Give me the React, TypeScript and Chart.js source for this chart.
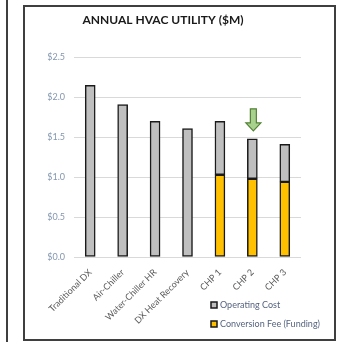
import React, { useEffect, useRef } from "react";
import { Chart, registerables } from "chart.js";

Chart.register(...registerables);

const categories = [
  "Traditional DX",
  "Air-Chiller",
  "Water-Chiller HR",
  "DX Heat Recovery",
  "CHP 1",
  "CHP 2",
  "CHP 3",
];
// Conversion fee (funding) portion, bottom segment ($M)
const conversionFee = [null, null, null, null, 1.03, 0.98, 0.94];
// Operating cost portion, top segment ($M)
const operatingCost = [2.15, 1.91, 1.7, 1.61, 0.67, 0.5, 0.47];
const yTicks = [0, 0.5, 1.0, 1.5, 2.0, 2.5];
const highlightIndex = 5;

const FONT = "Lato, 'Open Sans', sans-serif";

export default function App() {
  const ref = useRef<HTMLCanvasElement | null>(null);

  useEffect(() => {
    if (!ref.current) return;

    const legendPlugin = {
      id: "customLegend",
      afterDraw(chart: any) {
        const ctx = chart.ctx;
        const items = [
          { label: chart.data.datasets[1].label, color: chart.data.datasets[1].backgroundColor },
          { label: chart.data.datasets[0].label, color: chart.data.datasets[0].backgroundColor },
        ];
        const x0 = 186;
        const ys = [298, 317];
        ctx.save();
        ctx.font = `9px ${FONT}`;
        ctx.textBaseline = "middle";
        items.forEach((it, i) => {
          const y = ys[i];
          ctx.fillStyle = it.color;
          ctx.strokeStyle = "#1a1a1a";
          ctx.lineWidth = 1.5;
          ctx.fillRect(x0, y - 3, 6, 6);
          ctx.strokeRect(x0, y - 3, 6, 6);
          ctx.fillStyle = "#55637f";
          ctx.fillText(it.label, x0 + 9, y + 0.5);
        });
        ctx.restore();
      },
    };

    const arrowPlugin = {
      id: "arrow",
      afterDatasetsDraw(chart: any) {
        const meta = chart.getDatasetMeta(1);
        const el = meta.data[highlightIndex];
        if (!el) return;
        const ctx = chart.ctx;
        const cx = el.x + 1;
        const tip = el.y - 8;
        const top = el.y - 30;
        const headTop = tip - 8;
        const sw = 3;
        const hw = 7.5;
        ctx.save();
        ctx.beginPath();
        ctx.moveTo(cx - sw, top);
        ctx.lineTo(cx + sw, top);
        ctx.lineTo(cx + sw, headTop);
        ctx.lineTo(cx + hw, headTop);
        ctx.lineTo(cx, tip);
        ctx.lineTo(cx - hw, headTop);
        ctx.lineTo(cx - sw, headTop);
        ctx.closePath();
        ctx.fillStyle = "#a9d18e";
        ctx.fill();
        ctx.strokeStyle = "#548235";
        ctx.lineWidth = 1.2;
        ctx.stroke();
        ctx.restore();
      },
    };

    const chart = new Chart(ref.current, {
      type: "bar",
      data: {
        labels: categories,
        datasets: [
          {
            label: "Conversion Fee (Funding)",
            data: conversionFee as any,
            backgroundColor: "#ffc000",
            borderColor: "#1a1a1a",
            borderWidth: 1.5,
            borderSkipped: false,
            barThickness: 10,
          },
          {
            label: "Operating Cost",
            data: operatingCost,
            backgroundColor: "#bfbfbf",
            borderColor: "#1a1a1a",
            borderWidth: 1.5,
            borderSkipped: false,
            barThickness: 10,
          },
        ],
      },
      options: {
        responsive: false,
        animation: false,
        layout: { padding: { left: 0, right: 33, top: 0, bottom: 0 } },
        plugins: {
          legend: { display: false },
          tooltip: { enabled: false },
          title: {
            display: true,
            text: "ANNUAL HVAC UTILITY ($M)",
            color: "#1a1a1a",
            font: { family: FONT, size: 12, weight: "bold" },
            padding: { top: 6, bottom: 30 },
          },
        },
        scales: {
          x: {
            stacked: true,
            grid: { display: false },
            border: { display: false },
            ticks: {
              autoSkip: false,
              maxRotation: 45,
              minRotation: 45,
              padding: 2,
              color: "#595959",
              font: { family: FONT, size: 9 },
            },
            afterFit(scale: any) {
              scale.height = 82;
            },
          },
          y: {
            stacked: true,
            min: 0,
            max: 2.5,
            afterBuildTicks(scale: any) {
              scale.ticks = yTicks.map((v) => ({ value: v }));
            },
            grid: { color: "#d9d9d9", lineWidth: 1, drawTicks: false },
            border: { display: false },
            ticks: {
              padding: 9,
              color: "#8497b0",
              font: { family: FONT, size: 9 },
              callback: (v: any) => "$" + Number(v).toFixed(1),
            },
            afterFit(scale: any) {
              scale.width = 49;
            },
          },
        },
      },
      plugins: [legendPlugin, arrowPlugin],
    });
    return () => chart.destroy();
  }, []);

  return (
    <div style={{ position: "fixed", left: 0, top: 0, width: 347, height: 342, background: "#fff" }}>
      <div
        style={{
          position: "absolute",
          left: 6,
          top: 0,
          width: 2,
          height: 342,
          background: "#3f3f3f",
        }}
      />
      <div
        style={{
          position: "absolute",
          left: 23,
          top: 5,
          width: 309,
          height: 332,
          border: "2px solid #3f3f3f",
        }}
      >
        <canvas ref={ref} width={309} height={332} style={{ display: "block" }} />
      </div>
    </div>
  );
}
